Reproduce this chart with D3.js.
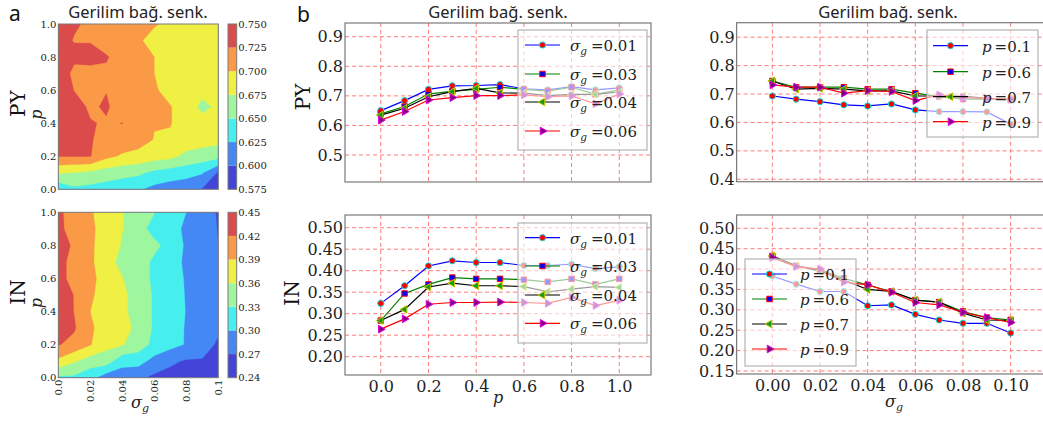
<!DOCTYPE html>
<html><head><meta charset="utf-8">
<script src="https://cdn.jsdelivr.net/npm/d3@7/dist/d3.min.js"></script>
<style>html,body{margin:0;padding:0;background:#fff;} svg{display:block;}</style>
</head><body>
<svg id="fig" width="1043" height="421"></svg>
<script>
// ---------------- data ----------------
const P_VALUES = [0.0,0.1,0.2,0.3,0.4,0.5,0.6,0.7,0.8,0.9,1.0];
const SIGMA_VALUES = [0.00,0.01,0.02,0.03,0.04,0.05,0.06,0.07,0.08,0.09,0.10];

const PY_LEVELS = [0.575,0.600,0.625,0.650,0.675,0.700,0.725,0.750];
const IN_LEVELS = [0.24,0.27,0.30,0.33,0.36,0.39,0.42,0.45];

// rows: p = 0.0 ... 1.0 ; columns: sigma_g = 0.00 ... 0.10
const PY_GRID = [
  [0.630,0.645,0.642,0.639,0.635,0.628,0.618,0.613,0.607,0.598,0.580],
  [0.678,0.674,0.670,0.662,0.658,0.655,0.644,0.638,0.635,0.627,0.597],
  [0.726,0.726,0.726,0.706,0.697,0.692,0.686,0.682,0.668,0.663,0.660],
  [0.745,0.734,0.727,0.716,0.714,0.710,0.699,0.697,0.690,0.686,0.682],
  [0.745,0.735,0.727,0.722,0.7255,0.710,0.701,0.701,0.690,0.685,0.683],
  [0.745,0.738,0.720,0.729,0.710,0.708,0.701,0.701,0.690,0.668,0.680],
  [0.746,0.724,0.724,0.724,0.717,0.717,0.703,0.691,0.682,0.683,0.679],
  [0.746,0.717,0.720,0.717,0.711,0.711,0.700,0.693,0.693,0.685,0.682],
  [0.742,0.731,0.730,0.729,0.705,0.705,0.700,0.690,0.685,0.685,0.683],
  [0.732,0.724,0.724,0.703,0.712,0.709,0.677,0.697,0.688,0.684,0.682],
  [0.740,0.727,0.722,0.720,0.713,0.710,0.706,0.685,0.688,0.690,0.690]
];
const IN_GRID = [
  [0.325,0.324,0.310,0.284,0.284,0.275,0.264,0.260,0.255,0.250,0.245],
  [0.383,0.363,0.345,0.345,0.310,0.312,0.289,0.275,0.267,0.267,0.243],
  [0.422,0.411,0.392,0.368,0.362,0.345,0.322,0.310,0.298,0.285,0.265],
  [0.440,0.423,0.392,0.384,0.371,0.352,0.326,0.312,0.298,0.285,0.275],
  [0.440,0.419,0.390,0.381,0.365,0.350,0.326,0.315,0.299,0.285,0.272],
  [0.435,0.419,0.393,0.381,0.365,0.350,0.326,0.316,0.298,0.283,0.274],
  [0.432,0.408,0.398,0.377,0.361,0.345,0.324,0.319,0.296,0.281,0.275],
  [0.432,0.408,0.395,0.373,0.350,0.345,0.324,0.319,0.292,0.275,0.274],
  [0.435,0.415,0.393,0.381,0.357,0.345,0.338,0.318,0.296,0.280,0.270],
  [0.428,0.406,0.400,0.368,0.361,0.343,0.318,0.312,0.294,0.281,0.269],
  [0.425,0.409,0.392,0.381,0.361,0.345,0.331,0.315,0.300,0.280,0.268]
];

const SIGMA_SERIES_LABELS = ["0.01","0.03","0.04","0.06"];
const P_SERIES_LABELS = ["0.1","0.6","0.7","0.9"];

// PY vs p, one array per sigma_g
const PY_P_S001 = [0.650,0.684,0.722,0.734,0.735,0.738,0.724,0.720,0.731,0.720,0.727];
const PY_P_S003 = [0.639,0.664,0.706,0.716,0.722,0.729,0.722,0.716,0.729,0.705,0.720];
const PY_P_S004 = [0.635,0.658,0.697,0.714,0.725,0.710,0.709,0.701,0.705,0.705,0.713];
const PY_P_S006 = [0.618,0.647,0.686,0.694,0.701,0.701,0.703,0.697,0.700,0.673,0.706];
// IN vs p
const IN_P_S001 = [0.324,0.365,0.411,0.423,0.419,0.419,0.412,0.412,0.415,0.405,0.409];
const IN_P_S003 = [0.284,0.347,0.368,0.384,0.381,0.381,0.379,0.374,0.381,0.368,0.381];
const IN_P_S004 = [0.284,0.310,0.362,0.371,0.365,0.365,0.363,0.351,0.357,0.363,0.361];
const IN_P_S006 = [0.264,0.288,0.322,0.326,0.326,0.327,0.326,0.324,0.338,0.319,0.331];
// PY vs sigma_g, one array per p
const PY_S_P01 = [0.693,0.682,0.673,0.662,0.658,0.665,0.644,0.638,0.638,0.637,0.594];
const PY_S_P06 = [0.746,0.724,0.724,0.724,0.717,0.717,0.703,0.691,0.682,0.683,0.679];
const PY_S_P07 = [0.746,0.717,0.720,0.717,0.711,0.711,0.693,0.693,0.693,0.685,0.682];
const PY_S_P09 = [0.732,0.724,0.724,0.703,0.712,0.709,0.677,0.697,0.688,0.684,0.682];
// IN vs sigma_g
const IN_S_P01 = [0.383,0.363,0.345,0.345,0.310,0.312,0.289,0.275,0.267,0.267,0.243];
const IN_S_P06 = [0.432,0.408,0.398,0.377,0.361,0.345,0.324,0.319,0.296,0.281,0.275];
const IN_S_P07 = [0.432,0.408,0.395,0.373,0.350,0.345,0.324,0.319,0.292,0.275,0.274];
const IN_S_P09 = [0.428,0.406,0.400,0.368,0.361,0.343,0.318,0.312,0.294,0.281,0.269];

// tick values / labels
const CONTOUR_X_TICKS = [0.00,0.02,0.04,0.06,0.08,0.10];
const CONTOUR_X_TICK_LABELS = ["0.0","0.02","0.04","0.06","0.08","0.1"];
const CONTOUR_Y_TICKS = [0.0,0.2,0.4,0.6,0.8,1.0];
const P_AXIS_TICKS = [0.0,0.2,0.4,0.6,0.8,1.0];
const SIGMA_AXIS_TICKS = [0.00,0.02,0.04,0.06,0.08,0.10];
const PY_MID_TICKS = [0.5,0.6,0.7,0.8,0.9];
const PY_RIGHT_TICKS = [0.4,0.5,0.6,0.7,0.8,0.9];
const IN_MID_TICKS = [0.20,0.25,0.30,0.35,0.40,0.45,0.50];
const IN_RIGHT_TICKS = [0.15,0.20,0.25,0.30,0.35,0.40,0.45,0.50];

const TITLE = "Gerilim bağ. senk.";

// ---------------- styles ----------------
const BAND_COLORS = ["#4444d9","#4488f6","#46eeee","#9ef79e","#f0f044","#fb9a46","#dc4b4b"];
const SERIES_STYLE = [
  {line:"#0000ff", fill:"#ff0000", edge:"#00e0e0", shape:"circle"},
  {line:"#008000", fill:"#0000ff", edge:"#ff0000", shape:"square"},
  {line:"#000000", fill:"#1a9a1a", edge:"#c8c800", shape:"tleft"},
  {line:"#ff0000", fill:"#800080", edge:"#e000e0", shape:"tright"}
];
const SERIF = "'DejaVu Serif', serif";
const SANS = "'Noto Sans', 'Open Sans', sans-serif";
const GRID_COLOR = "#ff7a7a";
const FRAME_COLOR = "#7a7a7a";

const svg = d3.select("#fig");
let clipId = 0;
function addClip(x, y, w, h) {
  const id = "clip" + (clipId++);
  svg.append("clipPath").attr("id", id).append("rect")
    .attr("x", x).attr("y", y).attr("width", w).attr("height", h);
  return "url(#" + id + ")";
}

// ---------------- contour panels ----------------
function contourPanel(grid, levels, yTop, yBot, showX, rowLabel, fmt) {
  const xS = d3.scaleLinear().domain([SIGMA_VALUES[0], SIGMA_VALUES[SIGMA_VALUES.length-1]]).range([58.3, 218.3]);
  const yS = d3.scaleLinear().domain([P_VALUES[0], P_VALUES[P_VALUES.length-1]]).range([yBot, yTop]);
  const n = SIGMA_VALUES.length, m = P_VALUES.length;
  const values = [];
  for (let j = 0; j < m; j++) for (let i = 0; i < n; i++) values.push(grid[j][i]);
  const gx = d3.scaleLinear().domain([0.5, n - 0.5]).range([xS(SIGMA_VALUES[0]), xS(SIGMA_VALUES[n-1])]);
  const gy = d3.scaleLinear().domain([0.5, m - 0.5]).range([yS(P_VALUES[0]), yS(P_VALUES[m-1])]);
  const path = d3.geoPath(d3.geoTransform({point(x, y) { this.stream.point(gx(x), gy(y)); }}));
  const cs = d3.contours().size([n, m]).thresholds(levels.slice(0, -1))(values);
  const x0 = xS.range()[0], x1 = xS.range()[1];
  const g = svg.append("g").attr("clip-path", addClip(x0, yTop, x1 - x0, yBot - yTop));
  g.selectAll("path").data(cs).join("path")
    .attr("d", path).attr("fill", (d, i) => BAND_COLORS[i]).attr("fill-rule", "evenodd")
    .attr("stroke", (d, i) => BAND_COLORS[i]).attr("stroke-width", 0.3);
  svg.append("rect").attr("x", x0).attr("y", yTop).attr("width", x1 - x0).attr("height", yBot - yTop)
    .attr("fill", "none").attr("stroke", FRAME_COLOR).attr("stroke-width", 1);

  const ya = svg.append("g").attr("transform", `translate(${x0},0)`)
    .call(d3.axisLeft(yS).tickValues(CONTOUR_Y_TICKS).tickSize(0).tickPadding(2).tickFormat(d3.format(".1f")));
  ya.select(".domain").remove();
  ya.selectAll("text").attr("font-family", SERIF).attr("font-size", 10).attr("fill", "#222");

  if (showX) {
    CONTOUR_X_TICKS.forEach((t, i) => {
      svg.append("text").attr("transform", `translate(${xS(t) + 3.5},${yBot + 2}) rotate(-90)`)
        .attr("text-anchor", "end").attr("font-family", SERIF).attr("font-size", 10).attr("fill", "#222")
        .text(CONTOUR_X_TICK_LABELS[i]);
    });
    const lab = svg.append("text").attr("x", 131).attr("y", yBot + 30).attr("font-family", SERIF)
      .attr("font-size", 16).attr("fill", "#222");
    lab.append("tspan").attr("font-style", "italic").text("σ");
    lab.append("tspan").attr("font-style", "italic").attr("font-size", 11).attr("dy", 4).text("g");
  }
  svg.append("text").attr("transform", `translate(${42},${(yTop + yBot) / 2 + 8}) rotate(-90)`)
    .attr("text-anchor", "middle").attr("font-family", SERIF).attr("font-style", "italic")
    .attr("font-size", 16).attr("fill", "#222").text("p");
  svg.append("text").attr("transform", `translate(${25},${(yTop + yBot) / 2 - 3}) rotate(-90)`)
    .attr("text-anchor", "middle").attr("font-family", SERIF)
    .attr("font-size", 20).attr("fill", "#111").text(rowLabel);

  const cbS = d3.scaleLinear().domain([levels[0], levels[levels.length - 1]]).range([yBot, yTop]);
  const cbX = 228, cbW = 8.7;
  for (let i = 0; i < levels.length - 1; i++) {
    svg.append("rect").attr("x", cbX).attr("y", cbS(levels[i + 1])).attr("width", cbW)
      .attr("height", cbS(levels[i]) - cbS(levels[i + 1])).attr("fill", BAND_COLORS[i]);
  }
  svg.append("rect").attr("x", cbX).attr("y", yTop).attr("width", cbW).attr("height", yBot - yTop)
    .attr("fill", "none").attr("stroke", FRAME_COLOR).attr("stroke-width", 1);
  const ca = svg.append("g").attr("transform", `translate(${cbX + cbW},0)`)
    .call(d3.axisRight(cbS).tickValues(levels).tickSize(0).tickPadding(1.5).tickFormat(d3.format(fmt)));
  ca.select(".domain").remove();
  ca.selectAll("text").attr("font-family", SERIF).attr("font-size", 10).attr("fill", "#222");
}

// ---------------- markers ----------------
function markerPath(shape) {
  if (shape === "circle") return d3.symbol(d3.symbolCircle, 30)();
  if (shape === "square") return d3.symbol(d3.symbolSquare, 30)();
  return d3.symbol(d3.symbolTriangle, 26)();
}
function drawMarker(g, shape, st, x, y) {
  const rot = shape === "tleft" ? -90 : shape === "tright" ? 90 : 0;
  g.append("path").attr("d", markerPath(shape))
    .attr("transform", `translate(${x},${y}) rotate(${rot})`)
    .attr("fill", st.fill).attr("stroke", st.edge).attr("stroke-width", 1);
}

// ---------------- line panels ----------------
function linePanel(o) {
  const xS = d3.scaleLinear().domain(o.xDomain).range(o.xRange);
  const yS = d3.scaleLinear().domain(o.yDomain).range(o.yRange);
  const x0 = o.xRange[0], x1 = o.xRange[1], yT = o.yRange[1], yB = o.yRange[0];
  svg.append("rect").attr("x", x0).attr("y", yT).attr("width", x1 - x0).attr("height", yB - yT).attr("fill", "#fff");
  const grid = svg.append("g").attr("stroke", GRID_COLOR).attr("stroke-width", 1).attr("stroke-dasharray", "4,3");
  o.xTicks.forEach(t => grid.append("line").attr("x1", xS(t)).attr("x2", xS(t)).attr("y1", yT).attr("y2", yB));
  o.yTicks.forEach(t => grid.append("line").attr("x1", x0).attr("x2", x1).attr("y1", yS(t)).attr("y2", yS(t)));

  const g = svg.append("g").attr("clip-path", addClip(x0, yT, x1 - x0, yB - yT));
  const line = d3.line().x((d, i) => xS(o.xs[i])).y(d => yS(d));
  o.series.forEach((s, k) => {
    const st = SERIES_STYLE[k];
    g.append("path").attr("d", line(s)).attr("fill", "none").attr("stroke", st.line).attr("stroke-width", 1.2);
    s.forEach((v, i) => drawMarker(g, st.shape, st, xS(o.xs[i]), yS(v)));
  });
  svg.append("rect").attr("x", x0).attr("y", yT).attr("width", x1 - x0).attr("height", yB - yT)
    .attr("fill", "none").attr("stroke", FRAME_COLOR).attr("stroke-width", 1.2);

  const ya = svg.append("g").attr("transform", `translate(${x0},0)`)
    .call(d3.axisLeft(yS).tickValues(o.yTicks).tickSize(0).tickPadding(2).tickFormat(d3.format(o.yFmt)));
  ya.select(".domain").remove();
  ya.selectAll("text").attr("font-family", SERIF).attr("font-size", 16).attr("fill", "#222");
  if (o.showX) {
    const xa = svg.append("g").attr("transform", `translate(0,${yB})`)
      .call(d3.axisBottom(xS).tickValues(o.xTicks).tickSize(0).tickPadding(6).tickFormat(d3.format(o.xFmt)));
    xa.select(".domain").remove();
    xa.selectAll("text").attr("font-family", SERIF).attr("font-size", 16).attr("fill", "#222");
  }

  const L = o.legend;
  svg.append("rect").attr("x", L.x).attr("y", L.y).attr("width", L.w).attr("height", L.h)
    .attr("fill", "#fff").attr("fill-opacity", 0.6).attr("stroke", "#b4b4b4").attr("stroke-width", 1.2);
  L.ys.forEach((yy, k) => {
    const st = SERIES_STYLE[k];
    svg.append("line").attr("x1", L.lx0).attr("x2", L.lx1).attr("y1", yy).attr("y2", yy)
      .attr("stroke", st.line).attr("stroke-width", 1.2);
    drawMarker(svg, st.shape, st, (L.lx0 + L.lx1) / 2, yy);
    const t = svg.append("text").attr("x", L.tx).attr("y", yy + 6).attr("font-family", SERIF)
      .attr("font-size", 15).attr("fill", "#222");
    if (L.kind === "sigma") {
      t.append("tspan").attr("font-style", "italic").text("σ");
      t.append("tspan").attr("font-style", "italic").attr("font-size", 10.5).attr("dy", 4).text("g");
      t.append("tspan").attr("dy", -4).attr("dx", 4).text("=" + L.labels[k]);
    } else {
      t.append("tspan").attr("font-style", "italic").text("p");
      t.append("tspan").attr("dx", 3).text("=" + L.labels[k]);
    }
  });
  if (o.title) {
    svg.append("text").attr("x", o.titleX).attr("y", 18).attr("text-anchor", "middle")
      .attr("font-family", SANS).attr("font-size", 16.5).attr("fill", "#222").text(o.title);
  }
}

// ---------------- build ----------------
contourPanel(PY_GRID, PY_LEVELS, 24, 189.3, false, "PY", ".3f");
contourPanel(IN_GRID, IN_LEVELS, 212.3, 377.7, true, "IN", ".2f");

svg.append("text").attr("x", 138).attr("y", 18).attr("text-anchor", "middle")
  .attr("font-family", SANS).attr("font-size", 16.5).attr("fill", "#222").text(TITLE);
svg.append("text").attr("x", 9).attr("y", 21).attr("font-family", SANS).attr("font-size", 21).attr("fill", "#111").text("a");
svg.append("text").attr("x", 297).attr("y", 22).attr("font-family", SANS).attr("font-size", 21).attr("fill", "#111").text("b");

const MID_X = {xDomain:[-0.15, 1.133], xRange:[345, 651], xs:P_VALUES, xTicks:P_AXIS_TICKS, xFmt:".1f"};
const RIGHT_X = {xDomain:[-0.015, 0.115], xRange:[736.6, 1046.4], xs:SIGMA_VALUES, xTicks:SIGMA_AXIS_TICKS, xFmt:".2f"};

linePanel(Object.assign({}, MID_X, {
  yDomain:[0.4087, 0.9463], yRange:[182, 23], yTicks:PY_MID_TICKS, yFmt:".1f", showX:false,
  series:[PY_P_S001, PY_P_S003, PY_P_S004, PY_P_S006], title:TITLE, titleX:498,
  legend:{x:518, y:30, w:129, h:120, ys:[45,74,102,131], lx0:525, lx1:560, tx:570, kind:"sigma", labels:SIGMA_SERIES_LABELS}
}));
linePanel(Object.assign({}, MID_X, {
  yDomain:[0.1574, 0.5295], yRange:[375, 215], yTicks:IN_MID_TICKS, yFmt:".2f", showX:true,
  series:[IN_P_S001, IN_P_S003, IN_P_S004, IN_P_S006],
  legend:{x:518, y:223, w:129, h:120, ys:[237.7,266,295,323.3], lx0:525, lx1:560, tx:570, kind:"sigma", labels:SIGMA_SERIES_LABELS}
}));
linePanel(Object.assign({}, RIGHT_X, {
  yDomain:[0.3915, 0.951], yRange:[181.7, 22.7], yTicks:PY_RIGHT_TICKS, yFmt:".1f", showX:false,
  series:[PY_S_P01, PY_S_P06, PY_S_P07, PY_S_P09], title:TITLE, titleX:888,
  legend:{x:927, y:30, w:111, h:107, ys:[45.7,71.7,96.7,121.7], lx0:933, lx1:968, tx:982, kind:"p", labels:P_SERIES_LABELS}
}));
linePanel(Object.assign({}, RIGHT_X, {
  yDomain:[0.1426, 0.5326], yRange:[374, 215], yTicks:IN_RIGHT_TICKS, yFmt:".2f", showX:true,
  series:[IN_S_P01, IN_S_P06, IN_S_P07, IN_S_P09],
  legend:{x:745, y:259, w:111, h:107, ys:[274,299,324,349], lx0:752, lx1:787, tx:800, kind:"p", labels:P_SERIES_LABELS}
}));

svg.append("text").attr("transform", "translate(310,97) rotate(-90)").attr("text-anchor", "middle")
  .attr("font-family", SERIF).attr("font-size", 20).attr("fill", "#111").text("PY");
svg.append("text").attr("transform", "translate(299,293) rotate(-90)").attr("text-anchor", "middle")
  .attr("font-family", SERIF).attr("font-size", 20).attr("fill", "#111").text("IN");
svg.append("text").attr("x", 498).attr("y", 403).attr("text-anchor", "middle")
  .attr("font-family", SERIF).attr("font-style", "italic").attr("font-size", 16).attr("fill", "#222").text("p");
const sl = svg.append("text").attr("x", 885).attr("y", 407).attr("font-family", SERIF).attr("font-size", 16).attr("fill", "#222");
sl.append("tspan").attr("font-style", "italic").text("σ");
sl.append("tspan").attr("font-style", "italic").attr("font-size", 11).attr("dy", 4).text("g");
</script>
</body></html>
